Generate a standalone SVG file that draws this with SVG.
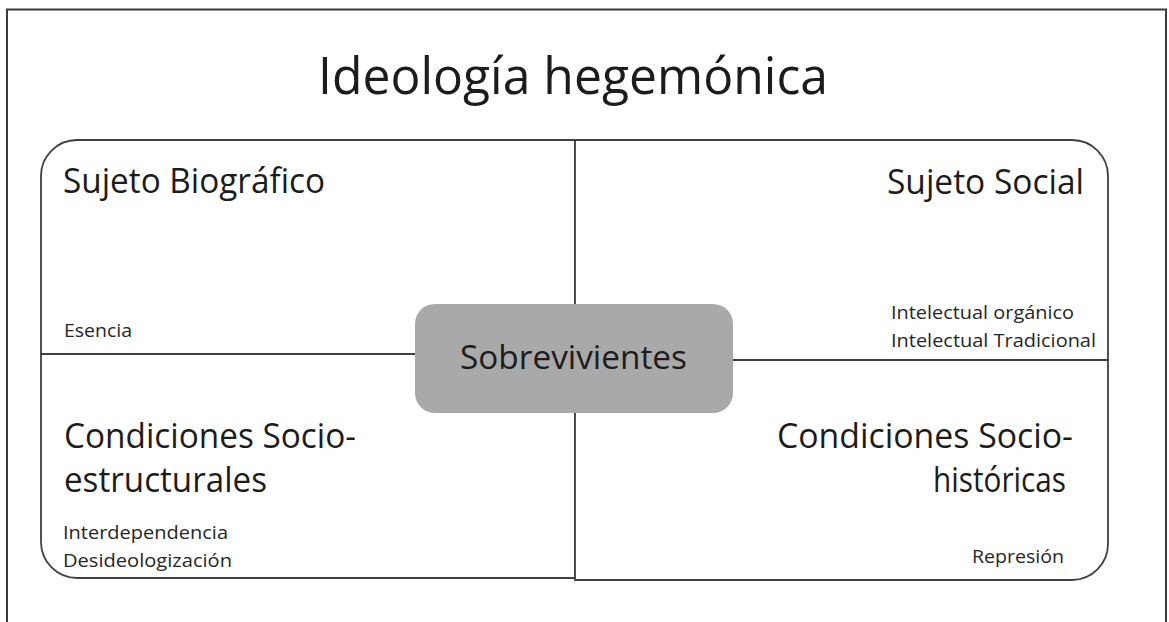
<svg xmlns="http://www.w3.org/2000/svg" width="1169" height="622" viewBox="0 0 1169 622">
  <style>
    .frame { fill: none; stroke: #3a3a3a; stroke-width: 2; }
    .quad { fill: #ffffff; stroke: #404040; stroke-width: 1.8; stroke-linejoin: miter; }
    .center { fill: #a9a9a9; stroke: none; }
    text { font-family: "Open Sans", "Noto Sans", "Liberation Sans", sans-serif; fill: #1c1c1c; }
    .title { font-size: 52px; }
    .head { font-size: 34px; }
    .small { font-size: 19px; fill: #262626; }
    .mid { font-size: 33px; }
  </style>
  <rect x="0" y="0" width="1169" height="622" fill="#ffffff"/>
  <g id="frame">
    <path class="frame" d="M 7 640 V 9.5 H 1166 V 640"/>
  </g>
  <g id="title">
    <text class="title" x="318" y="94" textLength="510" lengthAdjust="spacingAndGlyphs">Ideología hegemónica</text>
  </g>
  <g id="sujeto-biografico">
    <path class="quad" d="M 575 354 H 41 V 176 A 36 36 0 0 1 77 140 H 575 Z"/>
    <text class="head" x="63" y="193" textLength="262" lengthAdjust="spacingAndGlyphs">Sujeto Biográfico</text>
    <text class="small" x="64" y="337" textLength="68" lengthAdjust="spacingAndGlyphs">Esencia</text>
  </g>
  <g id="sujeto-social">
    <path class="quad" d="M 575 140 H 1072 A 36 36 0 0 1 1108 176 V 360 H 575 Z"/>
    <text class="head" x="887" y="194" textLength="197" lengthAdjust="spacingAndGlyphs">Sujeto Social</text>
    <text class="small" x="891" y="319" textLength="183" lengthAdjust="spacingAndGlyphs">Intelectual orgánico</text>
    <text class="small" x="891" y="347" textLength="205" lengthAdjust="spacingAndGlyphs">Intelectual Tradicional</text>
  </g>
  <g id="condiciones-socioestructurales">
    <path class="quad" d="M 575 354 V 578 H 77 A 36 36 0 0 1 41 542 V 354 Z"/>
    <text class="head" x="64" y="448" textLength="292" lengthAdjust="spacingAndGlyphs">Condiciones Socio-</text>
    <text class="head" x="64" y="492" textLength="203" lengthAdjust="spacingAndGlyphs">estructurales</text>
    <text class="small" x="63" y="539" textLength="165" lengthAdjust="spacingAndGlyphs">Interdependencia</text>
    <text class="small" x="63" y="567" textLength="169" lengthAdjust="spacingAndGlyphs">Desideologización</text>
  </g>
  <g id="condiciones-sociohistoricas">
    <path class="quad" d="M 575 360 H 1108 V 544 A 36 36 0 0 1 1072 580 H 575 Z"/>
    <text class="head" x="1073" y="448" text-anchor="end" textLength="296" lengthAdjust="spacingAndGlyphs">Condiciones Socio-</text>
    <text class="head" x="1066" y="492" text-anchor="end" textLength="133" lengthAdjust="spacingAndGlyphs">históricas</text>
    <text class="small" x="972" y="563" textLength="92" lengthAdjust="spacingAndGlyphs">Represión</text>
  </g>
  <g id="sobrevivientes">
    <rect class="center" x="415" y="304" width="318" height="109" rx="20" ry="20"/>
    <text class="mid" x="460" y="369" textLength="227" lengthAdjust="spacingAndGlyphs">Sobrevivientes</text>
  </g>
  <g id="connectors"></g>
</svg>
